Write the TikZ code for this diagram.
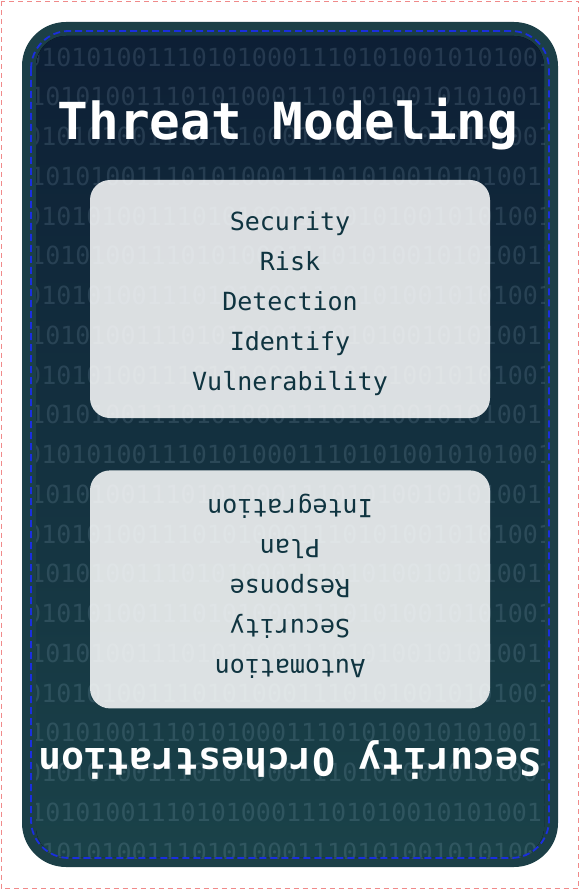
\documentclass[tikz,border=0pt]{standalone}
\usepackage{fontspec}
\setmonofont{DejaVu Sans Mono}
\usepackage{tikz}
\usetikzlibrary{positioning}
\usepackage{xcolor}
\definecolor{DeepNavy}{HTML}{0D1F35}
\definecolor{DeepTeal}{HTML}{1A4249}
\definecolor{RimTeal}{HTML}{1C3F47}
\definecolor{InkTeal}{HTML}{0F3440}
\definecolor{DashBlue}{HTML}{1A2EE0}
\definecolor{EdgePink}{HTML}{F08A8A}
\definecolor{BitGlow}{HTML}{C8E6FF}
\newcommand{\bitsodd}{0101010011101010001110101001010100111010100}
\newcommand{\bitseven}{1010100111010100011101010010101001110101000}
\tikzset{%
  page_edge/.style={%
    draw=EdgePink,%
    line width=1pt,%
    dash pattern=on 5pt off 4pt%
  },
  card_rim/.style={%
    fill=RimTeal,%
    rounded corners=44pt%
  },
  card_face/.style={%
    top color=DeepNavy,%
    bottom color=DeepTeal,%
    rounded corners=30pt%
  },
  card_dash/.style={%
    draw=DashBlue,%
    line width=1.8pt,%
    dash pattern=on 7pt off 4pt,%
    rounded corners=38pt%
  },
  bits/.style={%
    anchor=west,%
    inner sep=0pt,%
    text=BitGlow,%
    text opacity=0.13,%
    font={\ttfamily\fontsize{25}{25}\selectfont}%
  },
  headline/.style={%
    anchor=base,%
    inner sep=0pt,%
    text=white,%
    font={\ttfamily\bfseries\fontsize{51}{51}\selectfont}%
  },
  subline/.style={%
    anchor=base,%
    inner sep=0pt,%
    text=white,%
    rotate=180,%
    font={\ttfamily\bfseries\fontsize{38}{38}\selectfont}%
  },
  word_box/.style={%
    rectangle,%
    rounded corners=20pt,%
    fill=white,%
    fill opacity=0.85,%
    minimum width=400pt,%
    minimum height=238pt%
  },
  word_list/.style={%
    inner sep=0pt,%
    text=InkTeal,%
    align=center,%
    font={\ttfamily\fontsize{25}{40}\selectfont}%
  },
}

\begin{document}
\begin{tikzpicture}[x=1pt, y=-1pt]
    \useasboundingbox (0,0) rectangle (580,890);
    \draw [page_edge] (1.5,1.5) rectangle (578.5,888.5);

    % card
    \fill [card_rim] (22,22) rectangle (558,867);
    \fill [card_face] (36,36) rectangle (544,857);

    % binary rows
    \begin{scope}
      \clip [rounded corners=30pt] (36,36) rectangle (544,858);
      \foreach \row in {0,2,...,20}
        \node [bits] (bits\row) at (26, 57+39.75*\row) {\bitsodd};
      \foreach \row in {1,3,...,19}
        \node [bits] (bits\row) at (30, 57+39.75*\row) {\bitseven};
    \end{scope}
    \draw [card_dash] (31,31) rectangle (549,858);

    \node [headline] (Title) at (288,140) {Threat Modeling};

    \node [word_box] (ModelBox) at (290,299) {};
    \node [word_list] (ModelWords) at (290,304)
      {Security\\Risk\\Detection\\Identify\\Vulnerability};

    \node [word_box, below=52pt of ModelBox] (OrchBox) {};
    \node [word_list, rotate=180] (OrchWords) at (290,586)
      {Automation\\Security\\Response\\Plan\\Integration};

    \node [subline] (Subtitle) at (290,748) {Security Orchestration};
  \end{tikzpicture}
\end{document}
